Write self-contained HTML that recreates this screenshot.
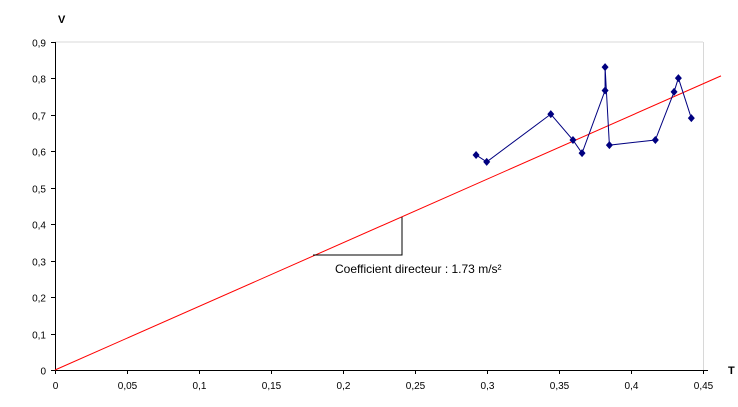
<!DOCTYPE html>
<html><head><meta charset="utf-8"><style>
html,body{margin:0;padding:0;background:#fff;}
svg{display:block;font-family:"Liberation Sans",sans-serif;}
</style></head><body>
<svg id="chart" width="738" height="407">
<line x1="55" y1="42" x2="703" y2="42" stroke="#d8d8d8"/>
<line x1="703.5" y1="42" x2="703.5" y2="370" stroke="#d8d8d8"/>
<g id="axes"></g>
<g id="marks"></g>
<text x="58" y="23" font-size="11" font-weight="bold">V</text>
<text x="728" y="374" font-size="11" font-weight="bold">T</text>
<polyline points="313,255 402,255 402,217" fill="none" stroke="#000" stroke-width="1"/>
<text x="335" y="273" font-size="12" fill="#000">Coefficient directeur : 1.73 m/s²</text>
</svg>
<script>
const xTicks=[0,0.05,0.1,0.15,0.2,0.25,0.3,0.35,0.4,0.45];
const xTickLabels=["0","0,05","0,1","0,15","0,2","0,25","0,3","0,35","0,4","0,45"];
const yTicks=[0,0.1,0.2,0.3,0.4,0.5,0.6,0.7,0.8,0.9];
const yTickLabels=["0","0,1","0,2","0,3","0,4","0,5","0,6","0,7","0,8","0,9"];
const tValues=[0.2924,0.2998,0.3443,0.3597,0.366,0.382,0.382,0.385,0.4169,0.4299,0.4329,0.4419];
const vValues=[0.590,0.571,0.702,0.631,0.595,0.767,0.831,0.617,0.631,0.763,0.801,0.691];
const fitSlope=[1.745];
const fitRange=[0,0.4625];
const NS="http://www.w3.org/2000/svg";
const sx=v=>55+v*(648/0.45);
const sy=v=>370-v*(328/0.9);
const axes=document.getElementById('axes'),marks=document.getElementById('marks');
function mk(tag,attrs,parent){const e=document.createElementNS(NS,tag);for(const k in attrs)e.setAttribute(k,attrs[k]);parent.appendChild(e);return e;}
let a=mk('line',{x1:55.5,y1:42,x2:55.5,y2:370.5,stroke:'#000'},axes);


a=mk('line',{x1:55,y1:370.5,x2:708,y2:370.5,stroke:'#000'},axes);


xTicks.forEach((t,i)=>{const x=Math.round(sx(t))+0.5;
 const l=mk('line',{x1:x,y1:370,x2:x,y2:374,stroke:'#000'},axes);
 
 
 const tx=mk('text',{x:x,y:389,'font-size':10,'text-anchor':'middle'},axes);tx.textContent=xTickLabels[i];
 
 });
yTicks.forEach((t,i)=>{const y=Math.round(sy(t))+0.5;
 const l=mk('line',{x1:51,y1:y,x2:55,y2:y,stroke:'#000'},axes);
 
 
 const tx=mk('text',{x:46,y:y+4,'font-size':10,'text-anchor':'end'},axes);tx.textContent=yTickLabels[i];
 
 });
const fit=mk('line',{x1:sx(fitRange[0]),y1:sy(fitRange[0]*fitSlope[0]),x2:sx(fitRange[1]),y2:sy(fitRange[1]*fitSlope[0]),stroke:'#ff0000','stroke-width':1},marks);


const pl=mk('polyline',{points:tValues.map((t,i)=>sx(t)+','+sy(vValues[i])).join(' '),fill:'none',stroke:'#000080','stroke-width':1},marks);


tValues.forEach((t,i)=>{const x=sx(t),y=sy(vValues[i]);
 const p=mk('polygon',{points:`${x},${y-4} ${x+3.5},${y} ${x},${y+4} ${x-3.5},${y}`,fill:'#000080'},marks);
 
 });
</script>
</body></html>
